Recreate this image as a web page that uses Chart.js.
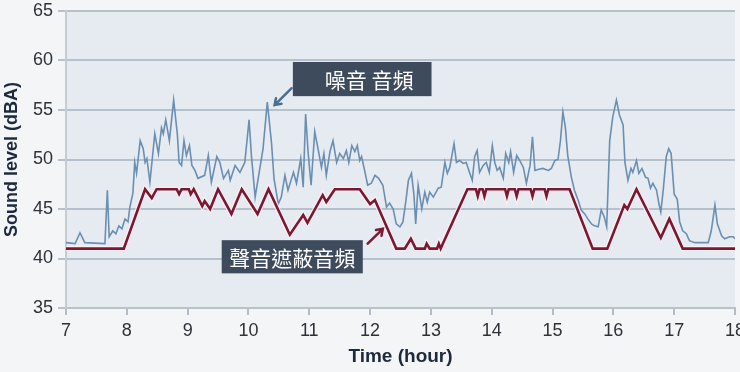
<!DOCTYPE html>
<html>
<head>
<meta charset="utf-8">
<script src="https://cdn.jsdelivr.net/npm/chart.js@4/dist/chart.umd.min.js"></script>
<style>
    html, body { margin: 0; padding: 0; background: #f3f5f7; }
    #wrap { width: 740px; height: 372px; }
</style>
</head>
<body>
<div id="wrap"><canvas id="soundChart" width="740" height="372"></canvas></div>
<script>
// noise level (blue line), hour -> dBA
const noiseHours = [7.00, 7.15, 7.23, 7.31, 7.64, 7.68, 7.71, 7.77, 7.82, 7.87, 7.92, 7.97, 8.02, 8.05, 8.10, 8.13, 8.16, 8.22, 8.27, 8.30,
    8.33, 8.38, 8.46, 8.52, 8.57, 8.60, 8.64, 8.70, 8.77, 8.83, 8.86, 8.90, 8.94, 8.98, 9.03, 9.07, 9.12, 9.17, 9.28, 9.34,
    9.39, 9.48, 9.53, 9.59, 9.67, 9.70, 9.78, 9.86, 9.94, 10.01, 10.05, 10.11, 10.19, 10.24, 10.31, 10.38, 10.42, 10.49, 10.54, 10.60,
    10.65, 10.74, 10.79, 10.86, 10.90, 10.94, 10.98, 11.03, 11.09, 11.15, 11.20, 11.24, 11.28, 11.34, 11.39, 11.45, 11.50, 11.56, 11.61, 11.65,
    11.70, 11.75, 11.79, 11.83, 11.86, 11.91, 11.96, 12.02, 12.08, 12.14, 12.21, 12.27, 12.32, 12.38, 12.43, 12.49, 12.54, 12.59, 12.63, 12.68,
    12.72, 12.75, 12.79, 12.85, 12.90, 12.94, 12.98, 13.04, 13.12, 13.17, 13.23, 13.27, 13.31, 13.38, 13.42, 13.47, 13.53, 13.58, 13.64, 13.68,
    13.72, 13.76, 13.80, 13.86, 13.91, 13.96, 14.01, 14.05, 14.09, 14.13, 14.19, 14.23, 14.28, 14.31, 14.36, 14.41, 14.46, 14.52, 14.57, 14.63,
    14.67, 14.71, 14.76, 14.84, 14.93, 14.98, 15.04, 15.09, 15.13, 15.17, 15.21, 15.25, 15.31, 15.36, 15.42, 15.47, 15.53, 15.58, 15.64, 15.69,
    15.75, 15.80, 15.85, 15.89, 15.94, 15.99, 16.05, 16.10, 16.16, 16.19, 16.24, 16.29, 16.32, 16.38, 16.42, 16.47, 16.53, 16.57, 16.61, 16.65,
    16.71, 16.75, 16.78, 16.82, 16.87, 16.91, 16.95, 17.00, 17.05, 17.09, 17.14, 17.20, 17.25, 17.34, 17.45, 17.56, 17.61, 17.67, 17.71, 17.78,
    17.83, 17.91, 17.97, 18.00];
const noiseLevels = [41.6, 41.5, 42.6, 41.6, 41.5, 46.9, 42.2, 42.8, 42.5, 43.3, 43.0, 44.0, 43.7, 45.2, 46.6, 49.7, 48.6, 51.9, 51.1, 49.7,
    50.1, 47.7, 52.6, 50.6, 53.2, 52.6, 54.0, 51.9, 56.0, 52.6, 49.7, 49.4, 51.9, 50.4, 51.4, 49.4, 48.9, 48.1, 48.4, 50.4,
    47.7, 50.3, 49.7, 48.1, 48.9, 47.9, 49.4, 48.7, 49.7, 54.0, 50.3, 46.2, 49.2, 51.1, 55.8, 51.6, 48.1, 45.5, 46.2, 48.4,
    46.9, 48.7, 47.6, 50.1, 47.2, 54.6, 50.8, 47.4, 52.8, 50.9, 49.2, 50.6, 48.4, 50.8, 51.9, 49.7, 50.6, 50.1, 50.9, 49.7,
    51.4, 50.8, 51.4, 49.9, 50.3, 48.9, 47.4, 47.6, 48.4, 48.1, 47.4, 45.2, 45.6, 45.0, 43.5, 43.2, 43.7, 45.9, 47.9, 48.6,
    46.5, 43.5, 47.4, 45.0, 46.7, 45.7, 46.7, 46.2, 47.1, 47.2, 49.7, 48.6, 49.2, 51.6, 49.7, 49.9, 49.6, 49.7, 48.6, 47.9,
    50.3, 50.9, 48.7, 49.4, 49.7, 48.7, 51.4, 49.7, 48.9, 49.2, 48.1, 50.6, 49.7, 50.8, 48.7, 50.4, 49.9, 49.2, 47.6, 49.4,
    52.3, 48.9, 49.0, 49.1, 48.9, 49.1, 49.9, 50.0, 51.9, 54.8, 53.3, 50.4, 48.2, 46.9, 45.9, 44.9, 44.5, 44.0, 43.5, 43.3,
    43.2, 44.9, 44.2, 43.2, 51.9, 54.3, 56.0, 54.5, 53.5, 49.7, 47.9, 49.1, 48.7, 49.9, 48.6, 49.1, 48.2, 48.1, 47.1, 47.6,
    46.9, 45.5, 44.7, 46.9, 50.3, 51.1, 50.6, 46.5, 46.0, 43.7, 42.8, 42.5, 41.8, 41.6, 41.6, 41.6, 42.8, 45.4, 43.5, 42.3,
    42.0, 42.2, 42.2, 42.0];

// masking sound level (red line)
const maskHours = [7, 7.95, 8.3, 8.41, 8.49, 8.82, 8.86, 8.9, 9.02, 9.05, 9.1, 9.24, 9.28, 9.37, 9.5, 9.72, 9.89, 10.15, 10.33, 10.68,
    10.9, 10.97, 11.22, 11.28, 11.42, 11.83, 12.0, 12.08, 12.43, 12.57, 12.67, 12.75, 12.9, 12.93, 12.98, 13.1, 13.13, 13.16, 13.6, 13.74,
    13.77, 13.8, 13.85, 13.88, 13.91, 14.22, 14.25, 14.28, 14.38, 14.41, 14.44, 14.64, 14.67, 14.7, 14.87, 14.9, 14.93, 15.28, 15.66, 15.9,
    16.18, 16.23, 16.38, 16.78, 16.92, 17.14, 18];
const maskLevels = [41, 41, 47, 46.1, 47, 47, 46.5, 47, 47, 46.5, 47, 45.3, 45.8, 45, 47, 44.5, 47, 44.5, 47, 42.4,
    44.4, 43.6, 46.4, 45.7, 47, 47, 45.5, 45.9, 41, 41, 42, 41, 41, 41.5, 41, 41, 41.5, 41, 47, 47,
    46.3, 47, 47, 46.3, 47, 47, 46.3, 47, 47, 46.3, 47, 47, 46.3, 47, 47, 46.3, 47, 47, 41, 41,
    45.4, 45.0, 47, 42.1, 44.0, 41, 41];

// call-out labels, anchored in data units
const noiseLabel = '噪音 音頻';
const maskLabel = '聲音遮蔽音頻';

const noisePoints = noiseHours.map((h, i) => ({ x: h, y: noiseLevels[i] }));
const maskPoints = maskHours.map((h, i) => ({ x: h, y: maskLevels[i] }));

// paint whole canvas + plot area backgrounds
const backgroundPlugin = {
    id: 'bg',
    beforeDraw(chart) {
        const ctx = chart.ctx;
        const a = chart.chartArea;
        ctx.save();
        ctx.fillStyle = '#f3f5f7';
        ctx.fillRect(0, 0, chart.width, chart.height);
        ctx.fillStyle = '#e5ebf1';
        ctx.fillRect(a.left, a.top, a.right - a.left, a.bottom - a.top);
        ctx.restore();
    }
};

function drawArrow(ctx, x1, y1, x2, y2, color) {
    const ang = Math.atan2(y2 - y1, x2 - x1);
    ctx.strokeStyle = color;
    ctx.lineWidth = 2.5;
    ctx.lineCap = 'round';
    ctx.beginPath();
    ctx.moveTo(x1, y1);
    ctx.lineTo(x2, y2);
    ctx.moveTo(x2 - 7 * Math.cos(ang - 0.6), y2 - 7 * Math.sin(ang - 0.6));
    ctx.lineTo(x2, y2);
    ctx.lineTo(x2 - 7 * Math.cos(ang + 0.6), y2 - 7 * Math.sin(ang + 0.6));
    ctx.stroke();
}

function drawBox(ctx, chart, x0, y0, x1, y1, text, shift) {
    const xs = chart.scales.x, ys = chart.scales.y;
    const left = xs.getPixelForValue(x0), right = xs.getPixelForValue(x1);
    const top = ys.getPixelForValue(y0), bottom = ys.getPixelForValue(y1);
    ctx.fillStyle = '#3e4b5d';
    ctx.fillRect(left, top, right - left, bottom - top);
    ctx.fillStyle = '#ffffff';
    ctx.font = '21px "Noto Sans CJK TC", "Noto Sans CJK SC", sans-serif';
    ctx.textAlign = 'center';
    ctx.textBaseline = 'middle';
    ctx.fillText(text, (left + right) / 2 + shift, (top + bottom) / 2 + 1);
}

const calloutPlugin = {
    id: 'callouts',
    afterDatasetsDraw(chart) {
        const ctx = chart.ctx;
        const xs = chart.scales.x, ys = chart.scales.y;
        ctx.save();
        drawBox(ctx, chart, 10.73, 59.85, 13.01, 56.4, noiseLabel, 7);
        drawArrow(ctx, xs.getPixelForValue(10.71), ys.getPixelForValue(57.2),
            xs.getPixelForValue(10.43), ys.getPixelForValue(55.5), '#4d6f8e');
        drawBox(ctx, chart, 9.56, 41.85, 11.88, 38.5, maskLabel, 0);
        drawArrow(ctx, xs.getPixelForValue(11.96), ys.getPixelForValue(41.5),
            xs.getPixelForValue(12.21), ys.getPixelForValue(43.0), '#7b1a33');
        ctx.restore();
    }
};

const ctx = document.getElementById('soundChart').getContext('2d');
const chart = new Chart(ctx, {
    type: 'line',
    data: {
        datasets: [{
            data: maskPoints,
            borderColor: '#7b1730',
            borderWidth: 2.6,
            pointRadius: 0,
            tension: 0
        }, {
            // light halo under the red line
            data: maskPoints,
            borderColor: 'rgba(255,240,244,0.8)',
            borderWidth: 5,
            pointRadius: 0,
            tension: 0
        }, {
            data: noisePoints,
            borderColor: '#6a8fb2',
            borderWidth: 1.6,
            pointRadius: 0,
            tension: 0
        }]
    },
    options: {
        responsive: false,
        animation: false,
        layout: { padding: { top: 11, right: 5, left: 0, bottom: 0 } },
        plugins: {
            legend: { display: false },
            tooltip: { enabled: false }
        },
        scales: {
            x: {
                type: 'linear',
                min: 7,
                max: 18,
                ticks: {
                    stepSize: 1,
                    padding: 5,
                    color: '#2e3237',
                    font: { family: 'Liberation Sans, Arial, sans-serif', size: 18 }
                },
                grid: {
                    drawOnChartArea: false,
                    drawTicks: true,
                    tickLength: 7,
                    tickColor: '#b3bcc6',
                    lineWidth: 2
                },
                border: { color: '#b8c2cc', width: 2 },
                title: {
                    display: true,
                    text: 'Time (hour)',
                    color: '#1d2a3c',
                    padding: { top: 0, bottom: 4 },
                    font: { family: 'Liberation Sans, Arial, sans-serif', size: 19, weight: 'bold' }
                },
                afterFit(scale) {
                    scale.height = 64;
                    scale.paddingLeft = 0;
                    scale.paddingRight = 0;
                }
            },
            y: {
                min: 35,
                max: 65,
                ticks: {
                    stepSize: 5,
                    padding: 5,
                    color: '#2e3237',
                    font: { family: 'Liberation Sans, Arial, sans-serif', size: 18 }
                },
                grid: {
                    color: '#b6c1cc',
                    tickColor: '#b6c1cc',
                    lineWidth: 2,
                    tickLength: 8
                },
                border: { color: '#c3cbd3', width: 2 },
                title: {
                    display: true,
                    text: 'Sound level (dBA)',
                    color: '#1d2a3c',
                    padding: { top: 1, bottom: 0 },
                    font: { family: 'Liberation Sans, Arial, sans-serif', size: 18, weight: 'bold' }
                },
                afterFit(scale) {
                    scale.width = 66;
                    scale.paddingTop = 0;
                    scale.paddingBottom = 0;
                }
            }
        }
    },
    plugins: [backgroundPlugin, calloutPlugin]
});
</script>
</body>
</html>
